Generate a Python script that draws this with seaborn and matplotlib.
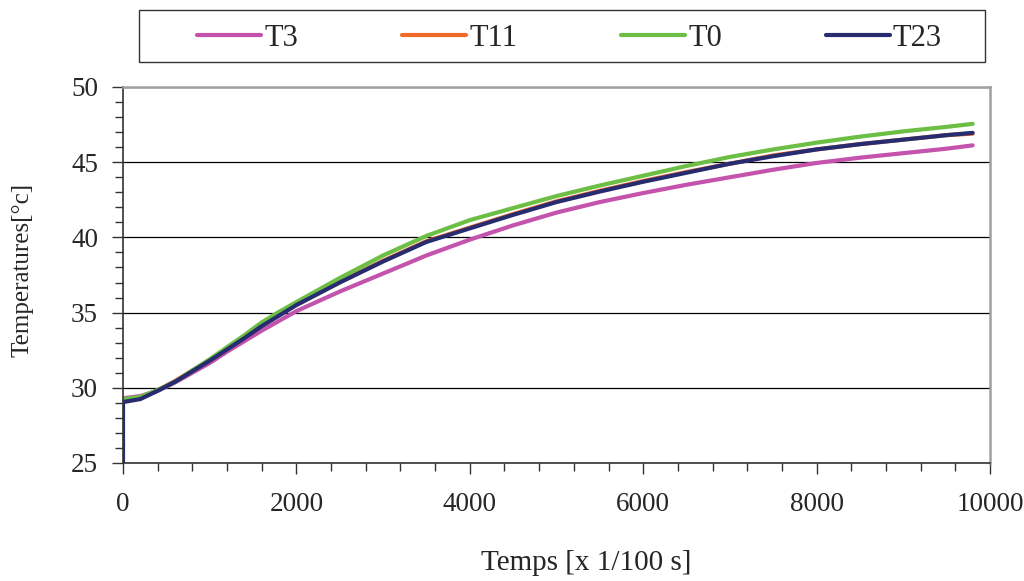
import matplotlib
matplotlib.use("Agg")
import matplotlib.pyplot as plt
from matplotlib.ticker import MultipleLocator
from matplotlib.patches import Rectangle
import seaborn as sns
import pandas as pd

# time in 1/100 s
temps = [0, 200, 400, 600, 800, 1000, 1200, 1400, 1600, 1800, 2000, 2500, 3000,
         3500, 4000, 4500, 5000, 5500, 6000, 6500, 7000, 7500, 8000, 8500, 9000,
         9500, 9800]

t3 = [29.3, 29.45, 29.8, 30.35, 31.0, 31.65, 32.4, 33.1, 33.8, 34.45, 35.1, 36.4,
      37.6, 38.8, 39.85, 40.8, 41.65, 42.35, 42.95, 43.5, 44.0, 44.5, 44.95,
      45.3, 45.6, 45.9, 46.12]
t11 = [29.2, 29.35, 29.85, 30.45, 31.15, 31.85, 32.6, 33.35, 34.15, 34.85, 35.55,
       37.05, 38.45, 39.75, 40.65, 41.55, 42.4, 43.1, 43.75, 44.35, 44.9, 45.45,
       45.85, 46.2, 46.5, 46.8, 46.9]
t0 = [29.25, 29.4, 29.85, 30.4, 31.15, 31.9, 32.7, 33.5, 34.35, 35.05, 35.7,
      37.3, 38.8, 40.1, 41.15, 41.95, 42.75, 43.45, 44.1, 44.75, 45.35, 45.85,
      46.3, 46.7, 47.05, 47.35, 47.55]
# T23 logger starts at 25 before the first real reading
t23_temps = [0] + temps
t23 = [25.0, 29.05, 29.25, 29.8, 30.4, 31.1, 31.8, 32.55, 33.3, 34.1, 34.8, 35.5,
       37.0, 38.4, 39.7, 40.6, 41.5, 42.35, 43.05, 43.7, 44.3, 44.9, 45.4,
       45.85, 46.2, 46.5, 46.8, 46.95]

series = [("T3", temps, t3, "#C353AC"),
          ("T11", temps, t11, "#F26A2A"),
          ("T0", temps, t0, "#6DBE45"),
          ("T23", t23_temps, t23, "#272B6F")]

sns.set_style("ticks")
plt.rcParams["font.family"] = ["Liberation Serif", "DejaVu Serif"]

fig = plt.figure(figsize=(10.24, 5.81), dpi=100)
ax = fig.add_axes([123 / 1024, 1 - 463 / 581, (990 - 123) / 1024, (463 - 87) / 581])

for name, x, y, c in series:
    df = pd.DataFrame({"t": x, "T": y})
    sns.lineplot(data=df, x="t", y="T", ax=ax, color=c, linewidth=3.0,
                 label=name, sort=False, estimator=None)

ax.set_xlim(0, 10000)
ax.set_ylim(25, 50)
ax.xaxis.set_major_locator(MultipleLocator(2000))
ax.xaxis.set_minor_locator(MultipleLocator(400))
ax.yaxis.set_major_locator(MultipleLocator(5))
ax.yaxis.set_minor_locator(MultipleLocator(1))
ax.tick_params(axis="both", which="major", labelsize=19.5, length=8, width=1,
               color="#333333", direction="out")
ax.tick_params(axis="x", which="major", pad=13)
ax.tick_params(axis="y", which="major", pad=10)
ax.tick_params(axis="both", which="minor", length=6, width=1, color="#333333",
               direction="out")

ax.yaxis.grid(True, which="major", color="black", linewidth=0.9)
ax.set_axisbelow(True)

for s in ["left", "bottom"]:
    ax.spines[s].set_color("#333333")
    ax.spines[s].set_linewidth(1.2)
for s in ["top", "right"]:
    ax.spines[s].set_visible(True)
    ax.spines[s].set_color("#a0a0a0")
    ax.spines[s].set_linewidth(1.8)

ax.set_xlabel("Temps [x 1/100 s]", fontsize=21)
ax.xaxis.set_label_coords((586 - 123) / 867, -(563 - 463) / 376)
ax.xaxis.label.set_va("center")
ax.set_ylabel("Temperatures[°c]", fontsize=18)
ax.yaxis.set_label_coords((23 - 123) / 867, (463 - 270) / 376)
ax.yaxis.label.set_va("center")

handles, labels = ax.get_legend_handles_labels()
ax.get_legend().remove()
leg = fig.legend(handles, labels, ncol=4, mode="expand", loc="center left",
                 bbox_to_anchor=(197 / 1024, 1 - 64 / 581, (942 - 197) / 1024, 52 / 581),
                 frameon=False, fontsize=22, handlelength=2.1, handletextpad=0.1,
                 borderaxespad=0, borderpad=0)
fig.patches.append(Rectangle((139 / 1024, 1 - 62 / 581), (985 - 139) / 1024, 52 / 581,
                             transform=fig.transFigure, fill=False,
                             edgecolor="#333333", linewidth=1.0))

fig.savefig("out.png", dpi=100)
